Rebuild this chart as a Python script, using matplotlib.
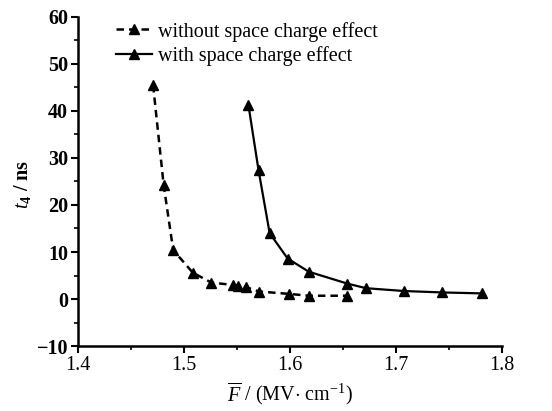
import matplotlib
matplotlib.use("Agg")
import matplotlib.pyplot as plt
from matplotlib.ticker import MultipleLocator

x_without = [1.471, 1.481, 1.490, 1.5085, 1.526, 1.546, 1.551, 1.559, 1.571, 1.599, 1.618, 1.654]
y_without = [45.5, 24.2, 10.4, 5.6, 3.5, 3.0, 2.8, 2.5, 1.6, 1.1, 0.7, 0.7]
x_with = [1.561, 1.5705, 1.581, 1.598, 1.618, 1.654, 1.672, 1.708, 1.744, 1.781]
y_with = [41.2, 27.4, 14.0, 8.6, 5.8, 3.3, 2.3, 1.7, 1.4, 1.2]
xticks = [1.4, 1.5, 1.6, 1.7, 1.8]
yticks = [-10, 0, 10, 20, 30, 40, 50, 60]

plt.rcParams['font.family'] = ['Liberation Serif', 'DejaVu Serif']
plt.rcParams['mathtext.fontset'] = 'custom'
plt.rcParams['mathtext.rm'] = 'Liberation Serif'
plt.rcParams['mathtext.it'] = 'Liberation Serif:italic'
plt.rcParams['mathtext.bf'] = 'Liberation Serif:bold'

fig = plt.figure(figsize=(5.52, 4.11), dpi=100)
ax = fig.add_axes([0.141, 0.158, 0.768, 0.801])

ax.plot(x_without, y_without, linestyle=(0, (3, 2)), color='black', linewidth=1.8,
        marker='^', markersize=7.5, label='without space charge effect')
ax.plot(x_with, y_with, linestyle='-', color='black', linewidth=1.6,
        marker='^', markersize=7.5, label='with space charge effect')

ax.set_xlim(1.4, 1.8)
ax.set_ylim(-10, 60)
ax.set_xticks(xticks)
ax.set_yticks(yticks)
ax.set_xticklabels([f'{v:.1f}' for v in xticks], fontsize=14.5)
ax.set_yticklabels([('\u221210' if v < 0 else str(v)) for v in yticks], fontsize=14.5, fontweight='bold')
ax.xaxis.set_minor_locator(MultipleLocator(0.05))
ax.yaxis.set_minor_locator(MultipleLocator(5))
ax.tick_params(which='major', direction='out', length=5, width=1.5, pad=2)
ax.tick_params(which='minor', direction='out', length=3, width=1.2)
for s in ['top', 'right']:
    ax.spines[s].set_visible(False)
for s in ['left', 'bottom']:
    ax.spines[s].set_linewidth(1.8)

ax.set_xlabel(r'$\overline{F}$ / (MV$\cdot$ cm$^{-1}$)', fontsize=14.5)
ax.set_ylabel(r'$\mathbf{\mathit{t}_4}$ / ns', fontsize=14.5, fontweight='bold')
ax.yaxis.set_label_coords(-0.106, 0.49)
ax.xaxis.set_label_coords(0.5, -0.105)

leg = ax.legend(loc='upper left', bbox_to_anchor=(0.07, 1.01), frameon=False,
                fontsize=14.5, handlelength=1.8, handletextpad=0.3, labelspacing=0.25,
                borderaxespad=0)

fig.savefig('out.png', dpi=100)
